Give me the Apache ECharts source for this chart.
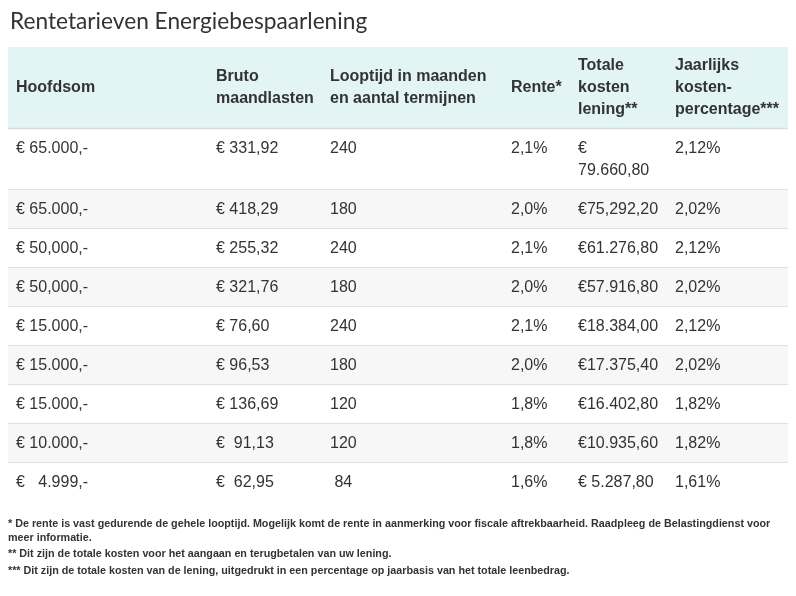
<!DOCTYPE html>
<html>
<head>
<meta charset="utf-8">
<script src="https://cdn.jsdelivr.net/npm/echarts@6/dist/echarts.min.js"></script>
<style>
html,body{margin:0;padding:0;background:#fff;}
#chart{width:796px;height:596px;}
</style>
</head>
<body>
<div id="chart"></div>
<script>
// ---- data ----
const titleText = 'Rentetarieven Energiebespaarlening';
const headers = ['Hoofdsom', 'Bruto\nmaandlasten', 'Looptijd in maanden\nen aantal termijnen', 'Rente*', 'Totale\nkosten\nlening**', 'Jaarlijks\nkosten-\npercentage***'];
const hoofdsom = ['€ 65.000,-', '€ 65.000,-', '€ 50,000,-', '€ 50,000,-', '€ 15.000,-', '€ 15.000,-', '€ 15.000,-', '€ 10.000,-', '€   4.999,-'];
const bruto = ['€ 331,92', '€ 418,29', '€ 255,32', '€ 321,76', '€ 76,60', '€ 96,53', '€ 136,69', '€  91,13', '€  62,95'];
const looptijd = ['240', '180', '240', '180', '240', '180', '120', '120', ' 84'];
const rente = ['2,1%', '2,0%', '2,1%', '2,0%', '2,1%', '2,0%', '1,8%', '1,8%', '1,6%'];
const totale = ['€ 79.660,80', '€75,292,20', '€61.276,80', '€57.916,80', '€18.384,00', '€17.375,40', '€16.402,80', '€10.935,60', '€ 5.287,80'];
const jkp = ['2,12%', '2,02%', '2,12%', '2,02%', '2,12%', '2,02%', '1,82%', '1,82%', '1,61%'];
const footnotes = [
  '* De rente is vast gedurende de gehele looptijd. Mogelijk komt de rente in aanmerking voor fiscale aftrekbaarheid. Raadpleeg de Belastingdienst voor meer informatie.',
  '** Dit zijn de totale kosten voor het aangaan en terugbetalen van uw lening.',
  '*** Dit zijn de totale kosten van de lening, uitgedrukt in een percentage op jaarbasis van het totale leenbedrag.'
];

// ---- layout (table units = px inside the grid) ----
const colLeft = [0, 200, 314, 495, 562, 659, 780];
const headerH = 82;
const lineH = 22;
const padX = 8;
const padY = 8.5;
const columns = [hoofdsom, bruto, looptijd, rente, totale, jkp];
const nRows = hoofdsom.length;
const bodyFont = '"Liberation Sans", Arial, sans-serif';
const textColor = '#333';
const footSize = 10.75;

// word wrap (breaks only at spaces, like a browser table cell)
const measureCtx = document.createElement('canvas').getContext('2d');
function wrap(text, font, maxW) {
  measureCtx.font = font;
  if (measureCtx.measureText(text).width <= maxW) return text;
  const words = text.split(' ');
  const lines = [];
  let cur = '';
  words.forEach(w => {
    const cand = cur === '' ? w : cur + ' ' + w;
    if (cur.trim() !== '' && measureCtx.measureText(cand).width > maxW) {
      lines.push(cur);
      cur = w;
    } else {
      cur = cand;
    }
  });
  lines.push(cur);
  return lines.join('\n');
}

const cellText = columns.map((col, c) => col.map(t =>
  wrap(t, '16px ' + bodyFont, colLeft[c + 1] - colLeft[c] - 2 * padX)));
const rowHeights = hoofdsom.map((_, r) => {
  const n = Math.max.apply(null, cellText.map(col => col[r].split('\n').length));
  return padY * 2 + lineH * n;
});
const rowTops = [];
let acc = headerH;
rowHeights.forEach(h => { rowTops.push(acc); acc += h; });
const tableH = acc;
const tableW = colLeft[colLeft.length - 1];

const chart = echarts.init(document.getElementById('chart'), null, {renderer: 'canvas'});

function renderHeader(params, api) {
  const p0 = api.coord([0, 0]);
  const p1 = api.coord([tableW, headerH]);
  const children = [{
    type: 'rect',
    shape: {x: p0[0], y: p0[1], width: p1[0] - p0[0], height: p1[1] - p0[1]},
    style: {fill: '#e2f4f4'}
  }, {
    type: 'line',
    shape: {x1: p0[0], y1: p1[1] - 0.5, x2: p1[0], y2: p1[1] - 0.5},
    style: {stroke: '#dcdcdc', lineWidth: 1.5}
  }];
  headers.forEach((h, c) => {
    const n = h.split('\n').length;
    const top = (headerH - n * lineH) / 2;
    const pt = api.coord([colLeft[c] + padX, top]);
    children.push({
      type: 'text',
      x: pt[0], y: pt[1],
      style: {
        text: h, fill: textColor, fontSize: 16, fontWeight: 'bold',
        fontFamily: bodyFont, lineHeight: lineH, verticalAlign: 'top', align: 'left'
      }
    });
  });
  return {type: 'group', children};
}

function renderRow(params, api) {
  const r = api.value(0);
  const top = rowTops[r], h = rowHeights[r];
  const p0 = api.coord([0, top]);
  const p1 = api.coord([tableW, top + h]);
  const children = [];
  if (r % 2 === 1) {
    children.push({
      type: 'rect',
      shape: {x: p0[0], y: p0[1], width: p1[0] - p0[0], height: p1[1] - p0[1]},
      style: {fill: '#f7f7f7'}
    });
  }
  if (r < nRows - 1) {
    children.push({
      type: 'line',
      shape: {x1: p0[0], y1: p1[1] - 0.5, x2: p1[0], y2: p1[1] - 0.5},
      style: {stroke: '#e0e0e0', lineWidth: 1}
    });
  }
  cellText.forEach((col, c) => {
    const pt = api.coord([colLeft[c] + padX, top + padY]);
    children.push({
      type: 'text',
      x: pt[0], y: pt[1],
      style: {
        text: col[r], fill: textColor, fontSize: 16, fontFamily: bodyFont,
        lineHeight: lineH, verticalAlign: 'top', align: 'left'
      }
    });
  });
  return {type: 'group', children};
}

const footTops = [517, 547, 564];

chart.setOption({
  animation: false,
  backgroundColor: '#fff',
  title: {
    text: titleText, left: 5, top: 5,
    textStyle: {fontSize: 22.7, fontWeight: 'normal', fontFamily: 'Lato, "Open Sans", sans-serif', color: '#333'}
  },
  grid: {left: 8, top: 47, width: tableW, height: tableH},
  xAxis: {type: 'value', min: 0, max: tableW, show: false},
  yAxis: {type: 'value', min: 0, max: tableH, inverse: true, show: false},
  graphic: footnotes.map((t, i) => ({
    type: 'text', left: 8, top: footTops[i],
    style: {
      text: wrap(t, 'bold ' + footSize + 'px ' + bodyFont, 770), fill: '#333', fontSize: footSize, fontWeight: 'bold',
      fontFamily: bodyFont, lineHeight: 14
    }
  })),
  series: [{
    type: 'custom', silent: true, clip: false,
    renderItem: renderHeader,
    data: [[0]]
  }, {
    type: 'custom', silent: true, clip: false,
    renderItem: renderRow,
    data: hoofdsom.map((_, i) => [i])
  }]
});
</script>
</body>
</html>
